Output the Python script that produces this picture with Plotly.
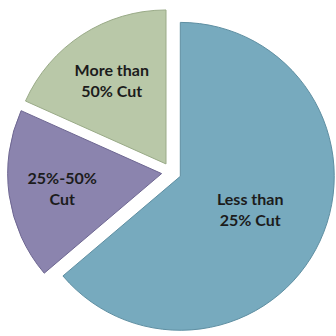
import plotly.graph_objects as go

# Share of items by size of cut
categories = ["Less than<br>25% Cut", "25%-50%<br>Cut", "More than<br>50% Cut"]
shares = [63.8, 17.9, 18.3]
colors = ["#77aabe", "#8b84ae", "#b9c8a8"]
edge_colors = ["#5f8fa2", "#6e6792", "#9aab88"]

fig = go.Figure(
    go.Pie(
        labels=categories,
        values=shares,
        sort=False,
        direction="clockwise",
        rotation=0,
        pull=0.064,
        marker=dict(colors=colors, line=dict(color=edge_colors, width=1)),
        textinfo="label",
        textposition="inside",
        insidetextorientation="horizontal",
        textfont=dict(family="Lato", size=16, color="#1c1c1c", weight="bold"),
        hoverinfo="label+percent",
        domain=dict(x=[0.02, 1.0], y=[0.0, 0.975]),
        showlegend=False,
    )
)

fig.update_layout(
    width=336,
    height=336,
    margin=dict(l=0, r=0, t=0, b=0),
    paper_bgcolor="white",
    plot_bgcolor="white",
)

fig.write_html("out.html")
